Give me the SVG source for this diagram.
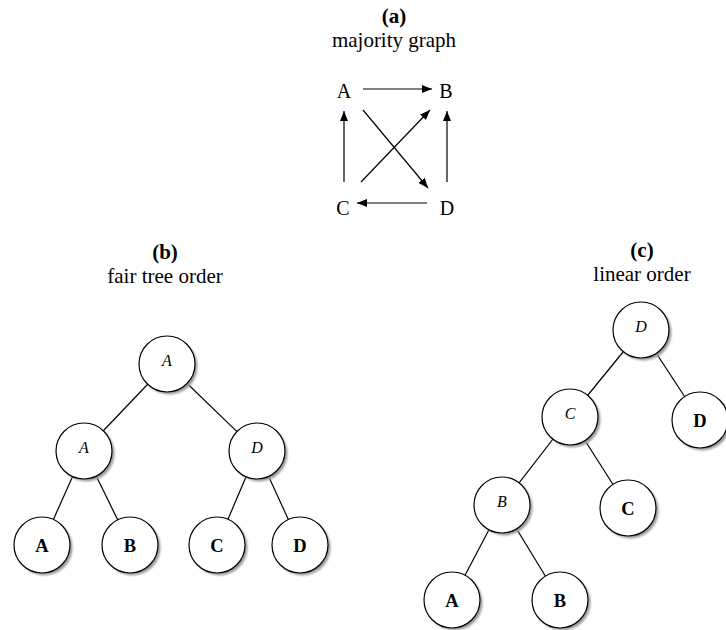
<svg xmlns="http://www.w3.org/2000/svg" width="726" height="630" viewBox="0 0 726 630">
<style>
text{font-family:"Liberation Serif","Times New Roman",serif;fill:#000;text-anchor:middle}
.t{font-size:21px}
.tb{font-size:21px;font-weight:bold}
.g{font-size:20px}
.it{font-size:16px;font-style:italic}
.lf{font-size:18.5px;font-weight:bold}
.e{stroke:#000;stroke-width:1.2;fill:none}
.a{stroke:#000;stroke-width:1.2;fill:none;marker-end:url(#ah)}
.sh{fill:#9a9a9a}
.c{fill:#fff;stroke:#000;stroke-width:1.2}
</style>
<defs>
<marker id="ah" viewBox="0 0 10 8" refX="10" refY="4" markerWidth="10" markerHeight="8" markerUnits="userSpaceOnUse" orient="auto">
<path d="M0,0 L10,4 L0,8 Z" fill="#000"/>
</marker>
<filter id="bl" x="-20%" y="-20%" width="140%" height="140%"><feGaussianBlur stdDeviation="0.8"/></filter>
</defs>

<!-- titles -->
<text class="tb" x="394" y="23">(a)</text>
<text class="t" x="394" y="47">majority graph</text>
<text class="tb" x="165" y="259">(b)</text>
<text class="t" x="165" y="283">fair tree order</text>
<text class="tb" x="642" y="257">(c)</text>
<text class="t" x="642" y="281">linear order</text>

<!-- majority graph -->
<g id="maj-A"><text class="g" x="344" y="98">A</text></g>
<g id="maj-B"><text class="g" x="446" y="98">B</text></g>
<g id="maj-C"><text class="g" x="343" y="215">C</text></g>
<g id="maj-D"><text class="g" x="447" y="215">D</text></g>
<g id="maj-edges">
<line class="a" x1="363" y1="89" x2="432" y2="89"/>
<line class="a" x1="344" y1="182" x2="344" y2="111"/>
<line class="a" x1="447" y1="182" x2="447" y2="111"/>
<line class="a" x1="427" y1="203" x2="357" y2="203"/>
<line class="a" x1="361" y1="182" x2="430" y2="110"/>
<line class="a" x1="363" y1="110" x2="428" y2="188"/>
</g>

<!-- connectors -->
<g id="tree-edges">
<line class="e" x1="167" y1="364" x2="84" y2="451"/>
<line class="e" x1="167" y1="364" x2="257" y2="451"/>
<line class="e" x1="84" y1="451" x2="42" y2="545"/>
<line class="e" x1="84" y1="451" x2="130" y2="545"/>
<line class="e" x1="257" y1="451" x2="217" y2="545"/>
<line class="e" x1="257" y1="451" x2="300" y2="545"/>
<line class="e" x1="641" y1="330" x2="570" y2="417"/>
<line class="e" x1="641" y1="330" x2="700" y2="420"/>
<line class="e" x1="570" y1="417" x2="502" y2="505"/>
<line class="e" x1="570" y1="417" x2="628" y2="508"/>
<line class="e" x1="502" y1="505" x2="452" y2="600"/>
<line class="e" x1="502" y1="505" x2="560" y2="600"/>
</g>

<!-- tree b -->
<g id="b-root"><circle class="sh" filter="url(#bl)" cx="169.5" cy="366.5" r="28"/><circle class="c" cx="167" cy="364" r="28"/><text class="it" x="167" y="366">A</text></g>
<g id="b-A"><circle class="sh" filter="url(#bl)" cx="86.5" cy="453.5" r="28"/><circle class="c" cx="84" cy="451" r="28"/><text class="it" x="84" y="453">A</text></g>
<g id="b-D"><circle class="sh" filter="url(#bl)" cx="259.5" cy="453.5" r="28"/><circle class="c" cx="257" cy="451" r="28"/><text class="it" x="257" y="453">D</text></g>
<g id="b-leafA"><circle class="sh" filter="url(#bl)" cx="44.5" cy="547.5" r="28"/><circle class="c" cx="42" cy="545" r="28"/><text class="lf" x="42" y="552">A</text></g>
<g id="b-leafB"><circle class="sh" filter="url(#bl)" cx="132.5" cy="547.5" r="28"/><circle class="c" cx="130" cy="545" r="28"/><text class="lf" x="130" y="552">B</text></g>
<g id="b-leafC"><circle class="sh" filter="url(#bl)" cx="219.5" cy="547.5" r="28"/><circle class="c" cx="217" cy="545" r="28"/><text class="lf" x="217" y="552">C</text></g>
<g id="b-leafD"><circle class="sh" filter="url(#bl)" cx="302.5" cy="547.5" r="28"/><circle class="c" cx="300" cy="545" r="28"/><text class="lf" x="300" y="552">D</text></g>

<!-- tree c -->
<g id="c-root"><circle class="sh" filter="url(#bl)" cx="643.5" cy="332.5" r="28"/><circle class="c" cx="641" cy="330" r="28"/><text class="it" x="641" y="332">D</text></g>
<g id="c-C"><circle class="sh" filter="url(#bl)" cx="572.5" cy="419.5" r="28"/><circle class="c" cx="570" cy="417" r="28"/><text class="it" x="570" y="419">C</text></g>
<g id="c-B"><circle class="sh" filter="url(#bl)" cx="504.5" cy="507.5" r="28"/><circle class="c" cx="502" cy="505" r="28"/><text class="it" x="502" y="507">B</text></g>
<g id="c-leafD"><circle class="sh" filter="url(#bl)" cx="702.5" cy="422.5" r="28"/><circle class="c" cx="700" cy="420" r="28"/><text class="lf" x="700" y="427">D</text></g>
<g id="c-leafC"><circle class="sh" filter="url(#bl)" cx="630.5" cy="510.5" r="28"/><circle class="c" cx="628" cy="508" r="28"/><text class="lf" x="628" y="515">C</text></g>
<g id="c-leafA"><circle class="sh" filter="url(#bl)" cx="454.5" cy="602.5" r="28"/><circle class="c" cx="452" cy="600" r="28"/><text class="lf" x="452" y="607">A</text></g>
<g id="c-leafB"><circle class="sh" filter="url(#bl)" cx="562.5" cy="602.5" r="28"/><circle class="c" cx="560" cy="600" r="28"/><text class="lf" x="560" y="607">B</text></g>
</svg>
